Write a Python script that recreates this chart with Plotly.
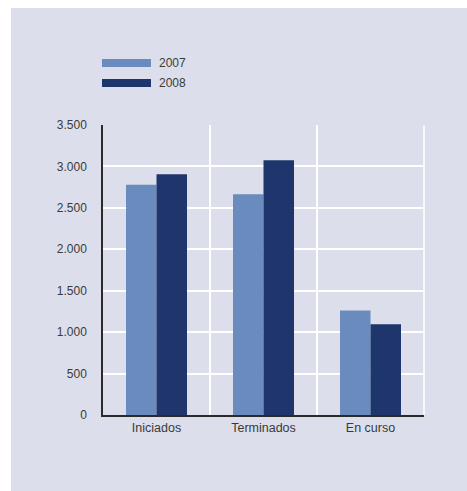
import plotly.graph_objects as go

categories = ["Iniciados", "Terminados", "En curso"]
series_names = ["2007", "2008"]
values_2007 = [2780, 2665, 1260]
values_2008 = [2905, 3075, 1095]
y_tick_values = [0, 500, 1000, 1500, 2000, 2500, 3000, 3500]

colors = ["#6a8bbd", "#1e366c"]
panel = "#dcdfeb"
font_color = "#3a3a3a"
FONT = "Liberation Sans, Arial, Helvetica, sans-serif"

W, H = 467, 491
L, R, T, B = 103, 424, 125, 415  # plot area in pixels


def px(x):
    return (x - L) / (R - L)


def py(y):
    return (B - y) / (B - T)


fig = go.Figure()
for name, vals, col in zip(series_names, [values_2007, values_2008], colors):
    fig.add_trace(go.Bar(x=categories, y=vals, name=name, marker=dict(color=col, line=dict(width=0)),
                         showlegend=False))

shapes = [
    dict(type="rect", xref="paper", yref="paper", x0=px(11), x1=px(W + 5), y0=py(H + 5), y1=py(8),
         fillcolor=panel, line=dict(width=0), layer="below"),
    dict(type="line", xref="paper", yref="paper", x0=1, x1=1, y0=0, y1=1,
         line=dict(color="white", width=1.5), layer="below"),
]
annotations = []
for i, (name, col) in enumerate(zip(series_names, colors)):
    yc = 63 + 20 * i
    shapes.append(dict(type="rect", xref="paper", yref="paper", x0=px(102), x1=px(151),
                       y0=py(yc + 4), y1=py(yc - 4), fillcolor=col, line=dict(width=0)))
    annotations.append(dict(text=name, xref="paper", yref="paper", x=px(157), y=py(yc),
                            xanchor="left", yanchor="middle", showarrow=False,
                            font=dict(size=12, color=font_color, family=FONT)))

fig.update_layout(
    width=W, height=H,
    margin=dict(l=L, r=W - R, t=T, b=H - B, pad=0),
    paper_bgcolor="white",
    plot_bgcolor="rgba(0,0,0,0)",
    barmode="group", bargap=0.43, bargroupgap=0,
    separators=",.",
    font=dict(family=FONT, size=12.5, color=font_color),
    shapes=shapes, annotations=annotations,
    showlegend=False,
)
fig.update_xaxes(
    type="category", tickson="boundaries", showgrid=True, gridcolor="white", gridwidth=1.5,
    showline=True, linecolor="#2a2a2a", linewidth=1.5,
    ticks="outside", ticklen=13, tickcolor="rgba(0,0,0,0)",
    tickfont=dict(size=12.5, color=font_color), zeroline=False,
)
fig.update_yaxes(
    range=[0, 3500], tickvals=y_tick_values, tickformat=",d",
    showgrid=True, gridcolor="white", gridwidth=1.5,
    showline=True, linecolor="#2a2a2a", linewidth=1.5, zeroline=False,
    ticks="outside", ticklen=12, tickcolor="rgba(0,0,0,0)",
    tickfont=dict(size=12, color=font_color),
)

fig.write_html(
    "out.html",
    config={"displayModeBar": False},
    post_script="document.body.style.margin='0';document.body.style.overflow='hidden';",
)
